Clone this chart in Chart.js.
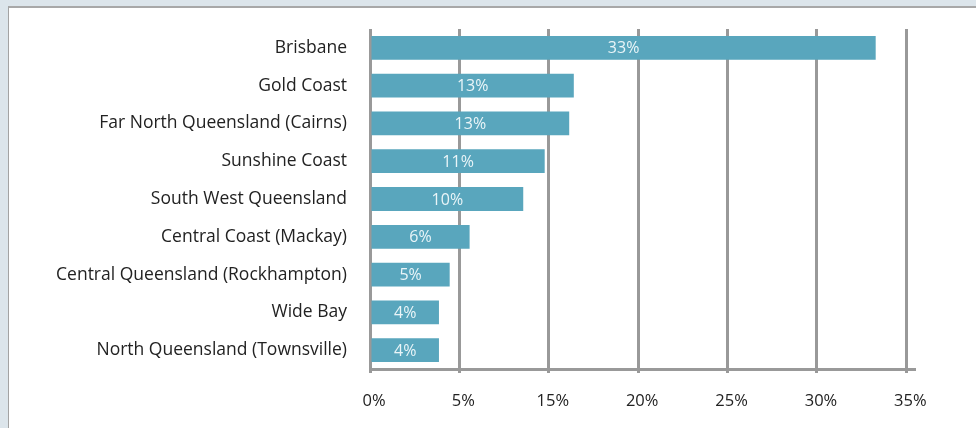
<!DOCTYPE html>
<html>
<head>
<meta charset="utf-8">
<script src="https://cdn.jsdelivr.net/npm/chart.js@4.4.1/dist/chart.umd.min.js"></script>
<style>
  html, body { margin: 0; padding: 0; }
  body { width: 976px; height: 428px; background: #dce5eb; position: relative; overflow: hidden; }
  .panel { position: absolute; left: 8px; top: 6px; right: -4px; bottom: -4px; background: #fff; border-left: 1px solid #a3a3a3; border-top: 2px solid #a8a8a8; }
  .wrap { position: absolute; left: 0; top: 0; width: 976px; height: 428px; }
</style>
</head>
<body>
<div class="panel"></div>
<div class="wrap"><canvas id="regionChart"></canvas></div>
<script>
const regions = [
  "Brisbane",
  "Gold Coast",
  "Far North Queensland (Cairns)",
  "Sunshine Coast",
  "South West Queensland",
  "Central Coast (Mackay)",
  "Central Queensland (Rockhampton)",
  "Wide Bay",
  "North Queensland (Townsville)",
];
const shares = [33.0, 13.3, 13.0, 11.4, 10.0, 6.5, 5.2, 4.5, 4.5];
const shareLabels = ["33%", "13%", "13%", "11%", "10%", "6%", "5%", "4%", "4%"];
const tickLabels = ["0%", "5%", "15%", "20%", "25%", "30%", "35%"];
const axisMax = 35;

const font = "'Open Sans', sans-serif";

// writes the value text in the middle of each bar
const barLabels = {
  id: "barLabels",
  afterDatasetsDraw(chart) {
    const c = chart.ctx;
    const meta = chart.getDatasetMeta(0);
    c.save();
    c.font = "16px " + font;
    c.fillStyle = "#eaf5f8";
    c.textAlign = "center";
    c.textBaseline = "middle";
    meta.data.forEach(function (bar, i) {
      c.fillText(shareLabels[i], (bar.x + bar.base) / 2, bar.y + 1);
    });
    c.restore();
  },
};

const ctx = document.getElementById("regionChart").getContext("2d");
const regionChart = new Chart(ctx, {
  type: "bar",
  data: {
    labels: regions,
    datasets: [
      {
        data: shares,
        backgroundColor: "#59a6bd",
        borderWidth: 0,
        barPercentage: 0.63,
        categoryPercentage: 1,
      },
    ],
  },
  options: {
    indexAxis: "y",
    responsive: true,
    maintainAspectRatio: false,
    animation: false,
    layout: {
      padding: { top: 29, right: 62, left: 0, bottom: 0 },
    },
    scales: {
      x: {
        min: 0,
        max: 35.5,
        afterBuildTicks: function (scale) {
          scale.ticks = tickLabels.map(function (t, i) {
            return { value: (axisMax * i) / (tickLabels.length - 1) };
          });
        },
        afterFit: function (scale) {
          scale.height = 59;
        },
        grid: {
          color: "#999999",
          lineWidth: 3,
          tickLength: 4,
          tickColor: "#999999",
        },
        border: {
          display: true,
          color: "#999999",
          width: 3,
        },
        ticks: {
          color: "#222222",
          font: { family: font, size: 16.5 },
          padding: 18,
          labelOffset: 4,
          maxRotation: 0,
          autoSkip: false,
          callback: function (value, index) {
            return tickLabels[index];
          },
        },
      },
      y: {
        afterFit: function (scale) {
          scale.width = 370;
          scale.paddingTop = 0;
          scale.paddingBottom = 0;
        },
        grid: { display: false, drawTicks: false },
        border: { display: false },
        ticks: {
          color: "#222222",
          font: { family: font, size: 17.5 },
          padding: 23,
          autoSkip: false,
        },
      },
    },
    plugins: {
      legend: { display: false },
      tooltip: { enabled: false },
    },
  },
  plugins: [barLabels],
});
</script>
</body>
</html>
